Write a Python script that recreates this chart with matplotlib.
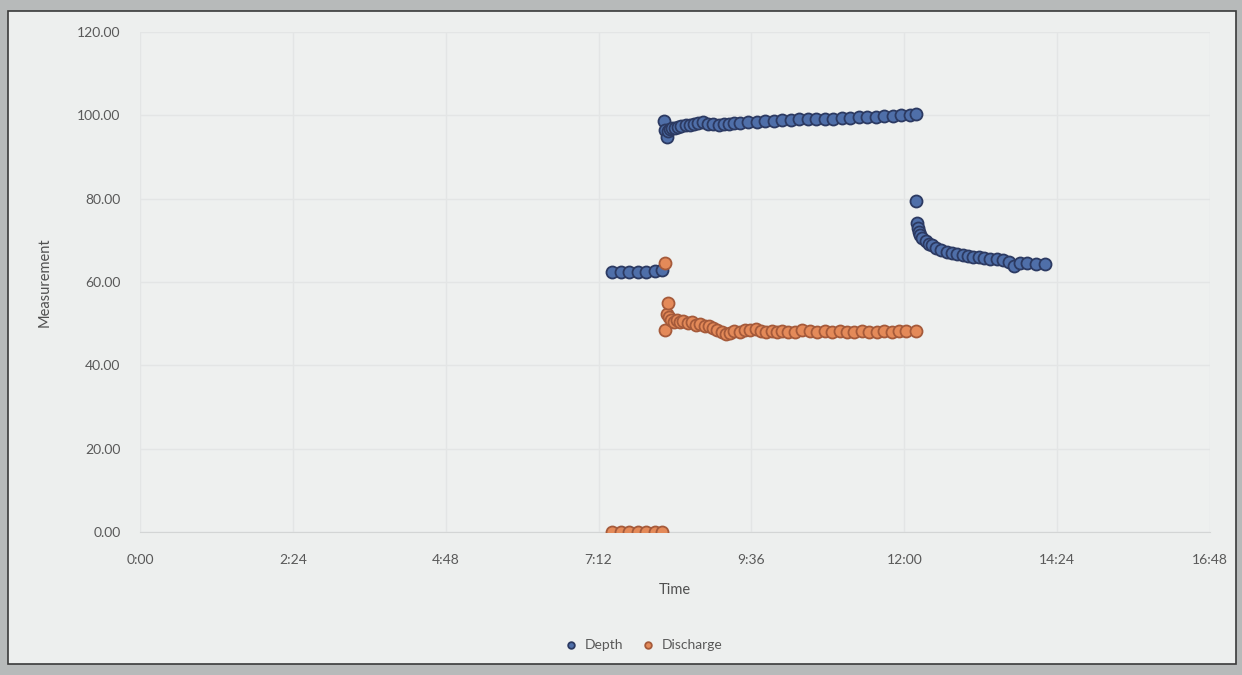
import numpy as np
import pandas as pd
import matplotlib
matplotlib.use("Agg")
import matplotlib.pyplot as plt
from matplotlib.patches import Rectangle
from matplotlib.ticker import FuncFormatter, MultipleLocator

# readings (time of day, value)
depth_times = ["7:25", "7:33", "7:41", "7:49", "7:57", "8:05", "8:12",
               "8:14", "8:15", "8:16", "8:17", "8:19", "8:21", "8:24", "8:27", "8:30",
               "8:34", "8:38", "8:42", "8:46", "8:50", "8:55", "9:00", "9:05", "9:10",
               "9:15", "9:20", "9:25", "9:33", "9:41", "9:49", "9:57", "10:05", "10:13",
               "10:21", "10:29", "10:37", "10:45", "10:53", "11:01", "11:09", "11:17",
               "11:25", "11:33", "11:41", "11:49", "11:57", "12:05", "12:11",
               "12:11", "12:12", "12:13", "12:14", "12:15", "12:17", "12:20", "12:23",
               "12:26", "12:30", "12:35", "12:40", "12:45", "12:50", "12:55", "13:00",
               "13:05", "13:10", "13:15", "13:21", "13:27", "13:33", "13:39", "13:43",
               "13:49", "13:56", "14:04", "14:13"]
depth_values = [62.4, 62.5, 62.4, 62.5, 62.4, 62.6, 62.8,
                98.6, 96.5, 94.9, 96.2, 96.8, 97.0, 97.0, 97.2, 97.4,
                97.6, 97.8, 98.0, 98.1, 98.3, 98.0, 97.9, 97.8, 97.9,
                98.0, 98.1, 98.2, 98.4, 98.5, 98.6, 98.7, 98.8, 98.9,
                99.0, 99.0, 99.1, 99.1, 99.2, 99.3, 99.4, 99.5,
                99.6, 99.7, 99.8, 99.9, 100.0, 100.1, 100.2,
                79.4, 74.2, 73.0, 72.0, 71.3, 70.5, 69.8, 69.2,
                68.8, 68.2, 67.7, 67.3, 67.0, 66.7, 66.5, 66.3,
                66.1, 65.9, 65.7, 65.5, 65.4, 65.2, 64.9, 63.9,
                64.5, 64.6, 64.4, 64.3]

discharge_times = ["7:25", "7:33", "7:41", "7:49", "7:57", "8:05", "8:12",
                   "8:15", "8:15", "8:16", "8:17", "8:18", "8:20", "8:23", "8:26", "8:29",
                   "8:32", "8:36", "8:40", "8:44", "8:48", "8:52", "8:56", "9:00", "9:04",
                   "9:08", "9:12", "9:16", "9:20", "9:25", "9:30", "9:35", "9:40", "9:45",
                   "9:50", "9:55", "10:00", "10:05", "10:10", "10:17", "10:24", "10:31",
                   "10:38", "10:45", "10:52", "10:59", "11:06", "11:13", "11:20", "11:27",
                   "11:34", "11:41", "11:48", "11:55", "12:02", "12:11"]
discharge_values = [0.0, 0.0, 0.0, 0.0, 0.0, 0.0, 0.0,
                    64.5, 48.5, 52.3, 55.0, 51.5, 50.8, 50.3, 50.9, 50.5,
                    50.6, 50.2, 50.5, 49.8, 49.9, 49.4, 49.5, 49.0, 48.6,
                    47.9, 47.5, 47.8, 48.2, 48.0, 48.4, 48.6, 48.8, 48.2,
                    48.1, 48.3, 48.0, 48.2, 48.0, 48.1, 48.4, 48.2,
                    48.0, 48.3, 48.1, 48.2, 48.0, 48.1, 48.2, 48.0,
                    48.1, 48.2, 48.1, 48.2, 48.3, 48.3]


def to_day_fraction(times):
    td = pd.to_timedelta([t + ":00" for t in times])
    return np.asarray(td.total_seconds()) / 86400.0


def fmt_time(x, pos):
    mins = int(round(x * 24 * 60))
    return f"{mins // 60}:{mins % 60:02d}"


plt.rcParams["font.family"] = ["Lato", "DejaVu Sans"]

fig = plt.figure(figsize=(12.42, 6.75), dpi=100, facecolor="#b7baba")
fig.patches.append(Rectangle((8 / 1242, 1 - 664 / 675), 1228 / 1242, 653 / 675,
                             transform=fig.transFigure, facecolor="#edefee",
                             edgecolor="#3a3a3a", linewidth=1.2, zorder=-5))

ax = fig.add_axes([140 / 1242, 1 - 532 / 675, 1070 / 1242, 500 / 675])
ax.set_facecolor("#eef0ef")

ax.scatter(to_day_fraction(depth_times), depth_values, s=75, color="#4f6fa9",
           edgecolors="#2c3a62", linewidths=1.3, zorder=3, label="Depth")
ax.scatter(to_day_fraction(discharge_times), discharge_values, s=75, color="#e48a59",
           edgecolors="#a55a3a", linewidths=1.3, zorder=3, label="Discharge")

ax.set_xlim(0, 0.7)
ax.set_ylim(0, 120)
ax.xaxis.set_major_locator(MultipleLocator(0.1))
ax.yaxis.set_major_locator(MultipleLocator(20))
ax.xaxis.set_major_formatter(FuncFormatter(fmt_time))
ax.yaxis.set_major_formatter(FuncFormatter(lambda v, p: f"{v:.2f}"))
ax.grid(True, color="#e3e5e5", linewidth=1)
ax.set_axisbelow(True)
for side in ["top", "right", "left"]:
    ax.spines[side].set_visible(False)
ax.spines["bottom"].set_color("#d3d5d5")
ax.tick_params(axis="x", length=0, labelsize=10, colors="#595959", pad=16)
ax.tick_params(axis="y", length=0, labelsize=10, colors="#595959", pad=14)

ax.set_xlabel("Time", fontsize=10.5, color="#505050", labelpad=12)
ax.set_ylabel("Measurement", fontsize=10.5, color="#505050", labelpad=18)

fig.legend(loc="center", bbox_to_anchor=(0.515, 1 - 645 / 675), ncol=2, frameon=False,
           fontsize=10, labelcolor="#595959", handletextpad=0.0, columnspacing=0.8,
           markerscale=0.55)

fig.savefig("out.png", dpi=100, facecolor=fig.get_facecolor())
